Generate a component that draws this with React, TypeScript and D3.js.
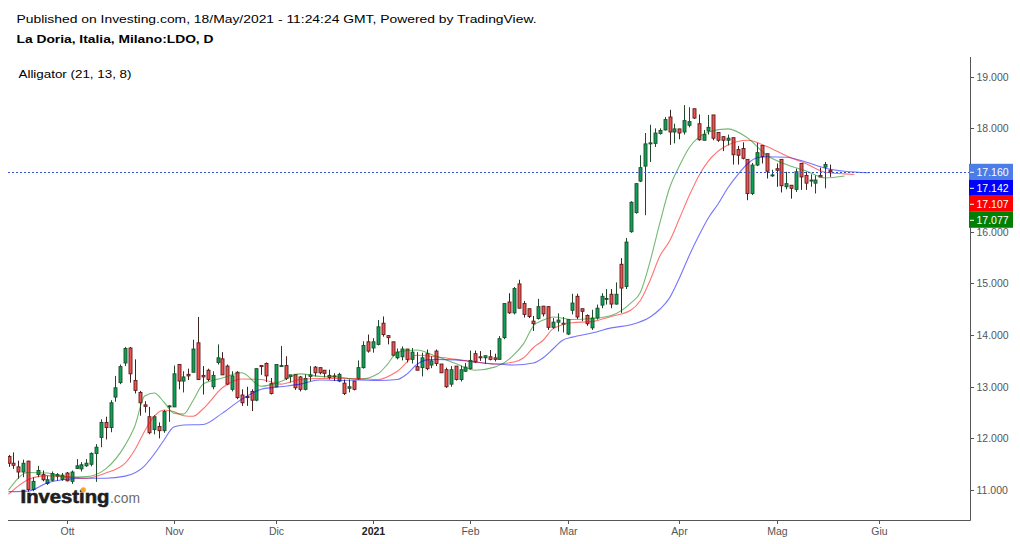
import React, { useEffect, useRef } from "react";
import * as d3 from "d3";

// daily bars 15/Sep/2020 -> 18/May/2021, [open, high, low, close]
const candles: [number, number, number, number][] = [
  [11.65, 11.68, 11.45, 11.52], [11.52, 11.73, 11.41, 11.48], [11.45, 11.57, 11.22, 11.35], [11.35, 11.59, 11.25, 11.52],
  [11.56, 11.57, 10.97, 11.01], [11.01, 11.25, 10.98, 11.17], [11.30, 11.47, 11.25, 11.38], [11.30, 11.38, 11.17, 11.20],
  [11.13, 11.28, 11.10, 11.20], [11.19, 11.36, 11.17, 11.32], [11.27, 11.33, 11.18, 11.30], [11.21, 11.33, 11.18, 11.29],
  [11.33, 11.35, 11.17, 11.18], [11.17, 11.38, 11.12, 11.35], [11.42, 11.60, 11.41, 11.47], [11.41, 11.54, 11.36, 11.49],
  [11.47, 11.60, 11.45, 11.52], [11.50, 11.73, 11.46, 11.71], [11.71, 11.89, 11.16, 11.83], [12.02, 12.37, 11.83, 12.31],
  [12.31, 12.42, 11.98, 12.21], [12.21, 12.74, 12.12, 12.69], [12.80, 13.21, 12.71, 12.98], [13.08, 13.43, 13.05, 13.39],
  [13.46, 13.77, 13.40, 13.74], [13.75, 13.77, 13.08, 13.25], [13.12, 13.53, 12.87, 12.93], [12.89, 12.92, 12.44, 12.69],
  [12.65, 12.72, 12.50, 12.62], [12.42, 12.61, 12.08, 12.11], [12.17, 12.45, 12.08, 12.42], [12.23, 12.31, 12.00, 12.15],
  [12.15, 12.55, 12.11, 12.52], [12.62, 12.64, 12.32, 12.63], [12.61, 13.41, 12.61, 13.25], [13.43, 13.43, 12.95, 13.11],
  [13.11, 13.30, 12.89, 13.19], [13.24, 13.35, 13.13, 13.21], [13.28, 13.91, 13.28, 13.73], [13.85, 14.35, 13.14, 13.14],
  [13.22, 13.40, 12.85, 13.19], [13.32, 13.35, 13.11, 13.14], [13.00, 13.30, 12.95, 13.22], [13.47, 13.82, 13.43, 13.56],
  [13.54, 13.67, 13.23, 13.23], [13.40, 13.43, 13.03, 13.05], [12.95, 13.30, 12.91, 13.21], [13.28, 13.30, 12.76, 12.79],
  [12.84, 12.95, 12.63, 12.69], [12.81, 13.00, 12.63, 12.79], [12.91, 12.95, 12.53, 12.74], [12.74, 13.35, 12.72, 13.35],
  [13.41, 13.41, 13.23, 13.39], [13.45, 13.47, 13.09, 13.21], [13.06, 13.17, 12.85, 12.87], [13.00, 13.43, 12.99, 13.43],
  [13.40, 13.79, 13.40, 13.41], [13.41, 13.59, 13.13, 13.16], [13.20, 13.23, 13.08, 13.23], [13.24, 13.24, 12.94, 12.98],
  [13.19, 13.21, 12.91, 12.95], [12.95, 13.24, 12.93, 13.16], [13.20, 13.40, 13.11, 13.23], [13.38, 13.40, 13.20, 13.27],
  [13.37, 13.37, 13.24, 13.27], [13.32, 13.32, 13.18, 13.26], [13.22, 13.33, 13.14, 13.18], [13.21, 13.26, 13.11, 13.19],
  [13.11, 13.27, 13.09, 13.24], [13.07, 13.14, 12.84, 12.87], [12.97, 13.14, 12.89, 13.00], [13.11, 13.11, 12.93, 12.95],
  [13.16, 13.51, 13.13, 13.37], [13.37, 13.88, 13.35, 13.80], [13.87, 14.01, 13.66, 13.69], [13.75, 13.94, 13.66, 13.87],
  [13.82, 14.29, 13.80, 14.16], [14.23, 14.36, 13.97, 14.01], [13.99, 13.99, 13.82, 13.95], [13.87, 13.87, 13.59, 13.61],
  [13.56, 13.74, 13.53, 13.67], [13.58, 13.78, 13.51, 13.73], [13.73, 13.73, 13.47, 13.53], [13.53, 13.75, 13.45, 13.67],
  [13.39, 13.67, 13.32, 13.32], [13.37, 13.66, 13.20, 13.56], [13.64, 13.72, 13.32, 13.35], [13.42, 13.59, 13.36, 13.50],
  [13.69, 13.72, 13.40, 13.45], [13.44, 13.44, 13.27, 13.27], [13.33, 13.37, 12.98, 13.00], [13.05, 13.40, 13.00, 13.33],
  [13.40, 13.40, 13.12, 13.14], [13.14, 13.41, 13.10, 13.33], [13.30, 13.46, 13.29, 13.38], [13.35, 13.70, 13.33, 13.51],
  [13.64, 13.70, 13.46, 13.48], [13.58, 13.69, 13.50, 13.56], [13.56, 13.60, 13.44, 13.60], [13.58, 13.71, 13.51, 13.53],
  [13.56, 13.64, 13.49, 13.53], [13.53, 13.98, 13.52, 13.93], [13.95, 14.61, 13.92, 14.61], [14.64, 14.81, 14.41, 14.43],
  [14.43, 14.93, 14.40, 14.90], [14.99, 15.07, 14.52, 14.52], [14.61, 14.66, 14.34, 14.40], [14.51, 14.51, 14.33, 14.36],
  [14.27, 14.37, 14.08, 14.22], [14.32, 14.70, 14.30, 14.55], [14.56, 14.56, 14.36, 14.41], [14.55, 14.56, 14.10, 14.15],
  [14.15, 14.33, 14.12, 14.25], [14.25, 14.42, 14.07, 14.29], [14.22, 14.35, 14.05, 14.23], [14.02, 14.30, 14.00, 14.30],
  [14.48, 14.80, 14.40, 14.62], [14.75, 14.80, 14.31, 14.35], [14.51, 14.51, 14.27, 14.46], [14.38, 14.40, 14.18, 14.22],
  [14.14, 14.49, 14.10, 14.33], [14.33, 14.59, 14.30, 14.52], [14.58, 14.81, 14.52, 14.75], [14.69, 14.89, 14.59, 14.71],
  [14.79, 14.89, 14.52, 14.60], [14.60, 15.02, 14.59, 14.79], [15.37, 15.49, 14.43, 14.91], [14.94, 15.88, 14.89, 15.80],
  [16.00, 16.59, 15.98, 16.57], [16.37, 16.94, 16.35, 16.93], [16.98, 17.48, 16.96, 17.24], [17.27, 17.91, 16.32, 17.70],
  [17.70, 18.07, 17.35, 17.72], [17.71, 18.00, 17.64, 17.91], [17.90, 18.00, 17.88, 17.96], [17.97, 18.22, 17.96, 18.17],
  [18.22, 18.36, 17.68, 17.93], [17.93, 18.09, 17.71, 17.99], [17.99, 17.99, 17.79, 17.91], [17.93, 18.45, 17.88, 18.15],
  [18.06, 18.41, 18.02, 18.13], [18.38, 18.38, 18.18, 18.20], [18.09, 18.27, 17.76, 17.78], [17.77, 17.97, 17.77, 17.88],
  [17.95, 18.26, 17.88, 18.02], [18.26, 18.26, 17.77, 17.81], [17.92, 17.92, 17.74, 17.77], [17.84, 17.84, 17.56, 17.77],
  [17.77, 17.88, 17.67, 17.81], [17.82, 17.82, 17.30, 17.49], [17.59, 17.66, 17.30, 17.48], [17.61, 17.73, 17.40, 17.42],
  [17.40, 17.40, 16.61, 16.74], [16.74, 17.33, 16.71, 17.29], [17.29, 17.72, 17.27, 17.53], [17.67, 17.67, 17.32, 17.45],
  [17.51, 17.51, 17.03, 17.17], [17.09, 17.20, 17.06, 17.10], [17.22, 17.32, 16.87, 17.19], [17.40, 17.40, 16.76, 16.89],
  [16.87, 17.16, 16.82, 16.93], [16.90, 16.90, 16.64, 16.84], [16.82, 17.22, 16.77, 17.16], [17.32, 17.32, 16.81, 17.06],
  [17.09, 17.16, 16.81, 16.94], [16.99, 17.11, 16.87, 17.00], [16.94, 17.09, 16.74, 17.00], [17.09, 17.24, 17.06, 17.06],
  [17.25, 17.35, 16.84, 17.30], [17.19, 17.30, 17.06, 17.16],
];

// Alligator lines: [bar index, value] (jaw +8, teeth +5, lips +3 bars ahead)
const jaw: [number, number][] = [
  [0, 10.97], [4, 10.98], [8, 11.14], [12, 11.21], [16, 11.23], [20, 11.23], [24, 11.27], [28, 11.47], [30, 11.70],
  [32, 11.97], [34, 12.22], [36, 12.26], [40, 12.27], [44, 12.49], [48, 12.76], [52, 12.95], [56, 13.00], [60, 13.05],
  [64, 13.13], [68, 13.12], [72, 13.13], [76, 13.12], [80, 13.14], [82, 13.25], [84, 13.43], [86, 13.52], [88, 13.53],
  [92, 13.52], [96, 13.48], [100, 13.44], [104, 13.42], [108, 13.46], [110, 13.56], [112, 13.73], [114, 13.90],
  [116, 13.96], [120, 14.04], [124, 14.14], [128, 14.20], [132, 14.35], [134, 14.50], [136, 14.72], [138, 15.10],
  [140, 15.53], [142, 15.92], [144, 16.27], [146, 16.54], [148, 16.85], [150, 17.10], [152, 17.31], [154, 17.43],
  [156, 17.45], [160, 17.44], [164, 17.35], [168, 17.23], [172, 17.17], [177, 17.142],
];
const teeth: [number, number][] = [
  [0, 10.92], [4, 11.20], [8, 11.28], [12, 11.26], [16, 11.23], [20, 11.33], [24, 11.52], [26, 11.78], [28, 12.14],
  [30, 12.43], [32, 12.55], [34, 12.52], [36, 12.44], [38, 12.43], [40, 12.57], [44, 12.98], [48, 13.15], [52, 13.14],
  [56, 13.05], [60, 13.14], [64, 13.16], [68, 13.16], [72, 13.16], [76, 13.14], [80, 13.30], [84, 13.61], [88, 13.58],
  [92, 13.53], [96, 13.48], [100, 13.44], [104, 13.48], [106, 13.56], [108, 13.76], [110, 13.90], [112, 14.12],
  [116, 14.24], [120, 14.26], [124, 14.36], [128, 14.48], [130, 14.67], [132, 15.06], [134, 15.53], [136, 15.82],
  [138, 16.25], [140, 16.69], [142, 17.08], [144, 17.37], [148, 17.68], [152, 17.77], [156, 17.65], [160, 17.47],
  [164, 17.32], [168, 17.15], [172, 17.12], [174, 17.107],
];
const lips: [number, number][] = [
  [0, 11.00], [4, 11.34], [8, 11.33], [12, 11.25], [16, 11.26], [20, 11.41], [24, 11.87], [26, 12.24], [28, 12.82],
  [30, 12.88], [32, 12.70], [34, 12.49], [36, 12.47], [38, 12.74], [40, 13.05], [44, 13.17], [48, 13.27], [52, 13.01],
  [56, 13.10], [60, 13.25], [64, 13.20], [68, 13.19], [72, 13.14], [76, 13.25], [78, 13.44], [80, 13.67], [84, 13.71],
  [88, 13.59], [92, 13.45], [96, 13.32], [100, 13.38], [104, 13.62], [106, 13.84], [108, 14.18], [110, 14.29],
  [112, 14.35], [116, 14.30], [120, 14.32], [124, 14.38], [128, 14.62], [130, 14.83], [132, 15.43], [134, 16.17],
  [136, 16.85], [138, 17.27], [140, 17.62], [144, 17.93], [148, 17.99], [152, 17.82], [156, 17.48], [160, 17.30],
  [164, 17.18], [168, 17.04], [172, 17.077],
];

const monthLabels = ["Ott", "Nov", "Dic", "2021", "Feb", "Mar", "Apr", "Mag", "Giu"];
const monthBars = [12, 34, 55, 75, 95, 115, 138, 158, 179];
const priceTicks = [11, 12, 13, 14, 15, 16, 17, 18, 19];

const lastPrice = 17.16;
const badgeValues = [17.16, 17.142, 17.107, 17.077];
const badgeColors = ["#4c7ce6", "#0000ff", "#ff0000", "#008000"];

const W = 1020;
const H = 544;
const FONT = "'Liberation Sans', Arial, sans-serif";

const App: React.FC = () => {
  const svgRef = useRef<SVGSVGElement | null>(null);

  useEffect(() => {
    if (!svgRef.current) return;
    const svg = d3.select(svgRef.current);
    svg.selectAll("*").remove();

    const plotLeft = 8;
    const plotRight = 970;
    const plotTop = 57;
    const plotBottom = 520;

    const x = d3.scaleLinear().domain([0, candles.length - 1]).range([8.5, 830]);
    const y = d3.scaleLinear().domain([11, 19]).range([490.1, 76.7]);
    const fmt = d3.format(".3f");

    svg.append("rect").attr("width", W).attr("height", H).attr("fill", "#ffffff");

    // header
    svg.append("text").attr("x", 16.5).attr("y", 22.5).attr("font-size", 11.5)
      .attr("textLength", 520).attr("lengthAdjust", "spacingAndGlyphs")
      .text("Published on Investing.com, 18/May/2021 - 11:24:24 GMT, Powered by TradingView.");
    svg.append("text").attr("x", 16.5).attr("y", 42.5).attr("font-size", 11.5).attr("font-weight", "bold")
      .attr("textLength", 197).attr("lengthAdjust", "spacingAndGlyphs")
      .text("La Doria, Italia, Milano:LDO, D");
    svg.append("text").attr("x", 18.5).attr("y", 77.5).attr("font-size", 11.5)
      .attr("textLength", 113).attr("lengthAdjust", "spacingAndGlyphs")
      .text("Alligator (21, 13, 8)");

    svg.append("clipPath").attr("id", "plot-clip").append("rect")
      .attr("x", plotLeft).attr("y", plotTop).attr("width", plotRight - plotLeft).attr("height", plotBottom - plotTop);
    const plot = svg.append("g").attr("clip-path", "url(#plot-clip)");

    // candles
    const bars = plot.append("g");
    candles.forEach(([o, h, l, c], i) => {
      const up = c >= o;
      const cx = Math.round(x(i)) + 0.5;
      bars.append("line")
        .attr("x1", cx).attr("x2", cx).attr("y1", y(h)).attr("y2", y(l))
        .attr("stroke", up ? "#1f4a2c" : "#3f2222").attr("stroke-width", 1);
      const top = y(Math.max(o, c));
      const bh = Math.max(1, y(Math.min(o, c)) - top);
      bars.append("rect")
        .attr("x", cx - 1.5).attr("y", top).attr("width", 3).attr("height", bh)
        .attr("fill", up ? "#0aa256" : "#ef5350")
        .attr("stroke", up ? "#1f4a2c" : "#5a1c1c").attr("stroke-width", 0.9);
    });

    // alligator
    const line = d3.line<[number, number]>()
      .x((d) => x(d[0]))
      .y((d) => y(d[1]))
      .curve(d3.curveMonotoneX);
    const series: [[number, number][], string][] = [[jaw, "#0000ff"], [teeth, "#ff0000"], [lips, "#008000"]];
    series.forEach(([pts, color]) => {
      plot.append("path").attr("d", line(pts) as string)
        .attr("fill", "none").attr("stroke", color).attr("stroke-opacity", 0.55).attr("stroke-width", 1.1);
    });

    // last price line
    const lpY = Math.round(y(lastPrice)) + 0.5;
    plot.append("line")
      .attr("x1", plotLeft).attr("x2", plotRight).attr("y1", lpY).attr("y2", lpY)
      .attr("stroke", "#3355cc").attr("stroke-width", 1).attr("stroke-dasharray", "2,2");

    // axes
    const axisColor = "#555555";
    svg.append("line").attr("x1", plotRight + 0.5).attr("x2", plotRight + 0.5).attr("y1", plotTop).attr("y2", plotBottom + 0.5)
      .attr("stroke", axisColor);
    svg.append("line").attr("x1", plotLeft).attr("x2", plotRight + 0.5).attr("y1", plotBottom + 0.5).attr("y2", plotBottom + 0.5)
      .attr("stroke", axisColor);

    // value badges on the price axis cover the ticks behind them
    const badgeTop = y(lastPrice) - 8;
    const badgeBottom = badgeTop + badgeValues.length * 16;

    const yt = svg.append("g");
    priceTicks.forEach((p) => {
      const py = Math.round(y(p)) + 0.5;
      yt.append("line").attr("x1", plotRight).attr("x2", plotRight + 4).attr("y1", py).attr("y2", py).attr("stroke", axisColor);
      if (py > badgeTop - 4 && py < badgeBottom - 6) return;
      yt.append("text").attr("x", 976.5).attr("y", py + 3.8).attr("font-size", 10.5).attr("fill", "#555555").text(fmt(p));
    });

    const xt = svg.append("g");
    monthLabels.forEach((lab, i) => {
      const px = Math.round(x(monthBars[i])) + 0.5;
      xt.append("line").attr("x1", px).attr("x2", px).attr("y1", plotBottom).attr("y2", plotBottom + 4).attr("stroke", axisColor);
      xt.append("text").attr("x", px).attr("y", 535).attr("text-anchor", "middle").attr("font-size", 10.5)
        .attr("font-weight", lab === "2021" ? "bold" : "normal")
        .attr("fill", lab === "2021" ? "#222222" : "#555555").text(lab);
    });

    badgeValues.forEach((v, i) => {
      const by = badgeTop + i * 16;
      svg.append("rect").attr("x", plotRight - 1).attr("y", by).attr("width", 44).attr("height", 16).attr("fill", badgeColors[i]);
      svg.append("line").attr("x1", plotRight).attr("x2", plotRight + 4).attr("y1", by + 8.5).attr("y2", by + 8.5).attr("stroke", "#ffffff");
      svg.append("text").attr("x", 976.5).attr("y", by + 12).attr("font-size", 10.5).attr("fill", "#ffffff").text(fmt(v));
    });

    // watermark
    const logo = svg.append("g");
    logo.append("text").attr("x", 20.5).attr("y", 503).attr("font-size", 18).attr("font-weight", "bold")
      .attr("fill", "#1e1e1e").attr("stroke", "#1e1e1e").attr("stroke-width", 0.6)
      .attr("textLength", 89).attr("lengthAdjust", "spacingAndGlyphs").text("Investing");
    logo.append("text").attr("x", 110).attr("y", 503).attr("font-size", 14).attr("fill", "#6b6b6b")
      .attr("textLength", 30).attr("lengthAdjust", "spacingAndGlyphs").text(".com");
    logo.append("circle").attr("cx", 83.3).attr("cy", 489.8).attr("r", 2.6).attr("fill", "#f5a623");
  }, []);

  return (
    <svg
      ref={svgRef}
      width={W}
      height={H}
      fontFamily={FONT}
      style={{ position: "absolute", left: 0, top: 0, display: "block" }}
    />
  );
};

export default App;
